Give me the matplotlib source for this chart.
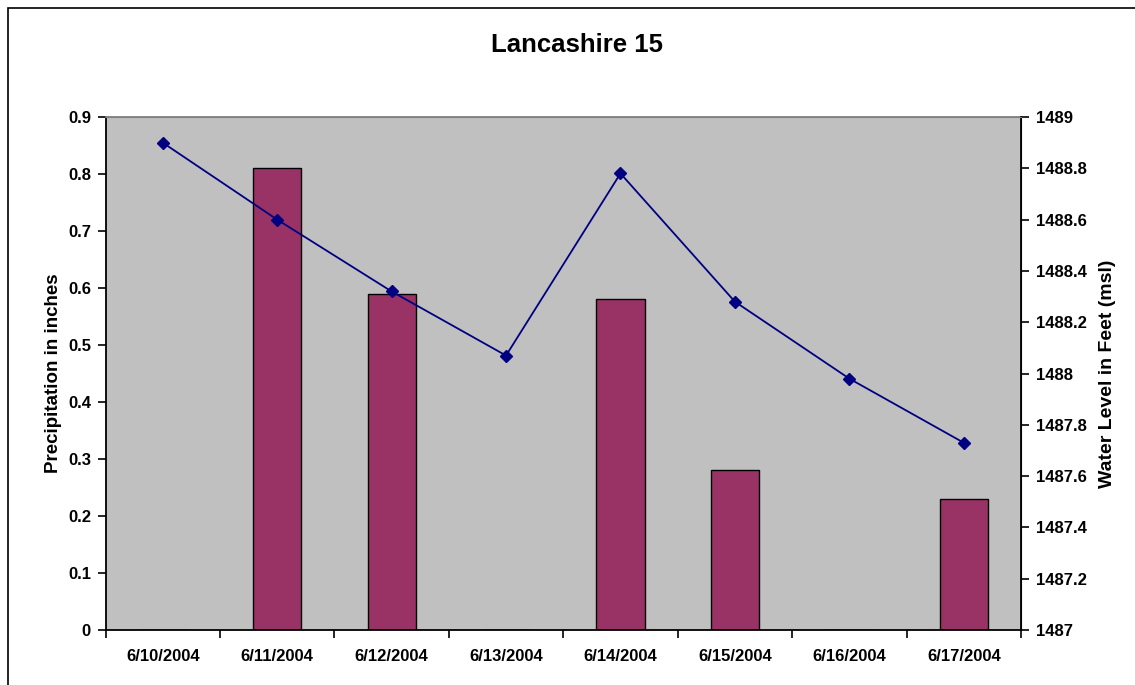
import matplotlib
matplotlib.use("Agg")
import matplotlib.pyplot as plt
from matplotlib.patches import Rectangle

dates = ["6/10/2004", "6/11/2004", "6/12/2004", "6/13/2004",
         "6/14/2004", "6/15/2004", "6/16/2004", "6/17/2004"]
precip = [0.0, 0.81, 0.59, 0.0, 0.58, 0.28, 0.0, 0.23]
water_level = [1488.90, 1488.60, 1488.32, 1488.07, 1488.78, 1488.28, 1487.98, 1487.73]
precip_ticks = [0, 0.1, 0.2, 0.3, 0.4, 0.5, 0.6, 0.7, 0.8, 0.9]
level_ticks = [1487, 1487.2, 1487.4, 1487.6, 1487.8, 1488, 1488.2, 1488.4, 1488.6, 1488.8, 1489]

plt.rcParams['font.family'] = ['Liberation Sans', 'DejaVu Sans']
FS = 12

fig = plt.figure(figsize=(11.35, 6.85), dpi=100)
fig.patches.append(Rectangle((8/1135, -0.1), 1.2, 1 - 8/685 + 0.1,
                             transform=fig.transFigure, fill=False,
                             edgecolor='black', linewidth=1.2))

ax = fig.add_axes([105.5/1135, 55/685, (1021-105.5)/1135, (630-117)/685])
ax.set_facecolor('#C0C0C0')
x = list(range(len(dates)))
ax.bar(x, precip, width=0.42, color='#993366', edgecolor='black', linewidth=1.0, zorder=2)
ax.set_xlim(-0.5, len(dates) - 0.5)
ax.set_ylim(0, 0.9)
ax.set_yticks(precip_ticks)
ax.set_yticklabels([f"{t:g}" for t in precip_ticks], fontsize=FS, fontweight='bold')
ax.set_xticks(x)
ax.set_xticklabels(dates, fontsize=FS, fontweight='bold')
ax.tick_params(axis='x', which='major', length=0, pad=13.5)
ax.set_xticks([i - 0.5 for i in range(len(dates) + 1)], minor=True)
ax.tick_params(axis='x', which='minor', length=6, width=1.2, direction='out')
ax.tick_params(axis='y', length=6, width=1.2, direction='out', pad=4.5)
ax.set_ylabel("Precipitation in inches", fontsize=13.5, fontweight='bold', labelpad=4)
for s in ['left', 'bottom']:
    ax.spines[s].set_linewidth(1.3)
    ax.spines[s].set_color('black')
ax.spines['top'].set_color('#808080')
ax.spines['top'].set_linewidth(1.3)

ax2 = ax.twinx()
ax2.plot(x, water_level, color='#000080', marker='D', markersize=6.5, linewidth=1.3, zorder=3)
ax2.set_ylim(1487, 1489)
ax2.set_yticks(level_ticks)
ax2.set_yticklabels([f"{t:g}" for t in level_ticks], fontsize=FS, fontweight='bold')
ax2.tick_params(axis='y', length=6, width=1.2, direction='out', pad=4.5)
ax2.set_ylabel("Water Level in Feet (msl)", fontsize=14, fontweight='bold', labelpad=9)
ax2.spines['right'].set_linewidth(1.3)
ax2.spines['right'].set_color('black')
ax2.spines['top'].set_color('#808080')
ax2.spines['left'].set_visible(False)
ax2.spines['bottom'].set_visible(False)

fig.text(577/1135, 1 - 45/685, "Lancashire 15", ha='center', va='center',
         fontsize=18.5, fontweight='bold')

fig.savefig("out.png", dpi=100)
